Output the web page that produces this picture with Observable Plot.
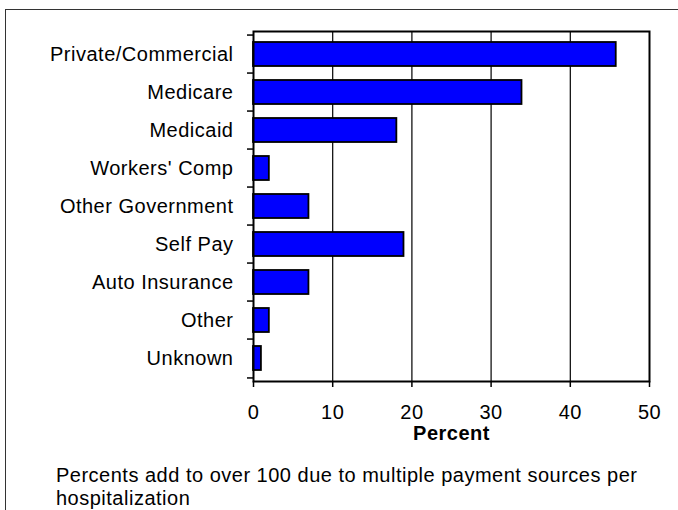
<!DOCTYPE html>
<html><head><meta charset="utf-8">
<script src="https://cdn.jsdelivr.net/npm/d3@7"></script>
<script src="https://cdn.jsdelivr.net/npm/@observablehq/plot@0.6"></script>
<style>
body{margin:0;background:#fff;}
#wrap{position:relative;width:678px;height:510px;overflow:hidden;font-family:"Liberation Sans",Arial,sans-serif;background:#fff;}
#border{position:absolute;left:5px;top:9px;width:800px;height:800px;border:1.5px solid #333;}
#chart{position:absolute;left:0;top:0;}
#note{position:absolute;left:56px;top:463.6px;width:600px;font-size:20px;line-height:23px;letter-spacing:0.5px;color:#000;}
</style></head><body>
<div id="wrap"><div id="border"></div><div id="chart"></div><div id="note"></div></div>
<script>
const categories = ["Private/Commercial", "Medicare", "Medicaid", "Workers' Comp", "Other Government", "Self Pay", "Auto Insurance", "Other", "Unknown"];
const percents = [45.8, 33.9, 18.1, 2, 7, 19, 7, 2, 1];
const xTicks = [0, 10, 20, 30, 40, 50];
const gridValues = [10, 20, 30, 40];
const xLabel = "Percent";
const footnote = "Percents add to over 100 due to multiple payment sources per hospitalization";

const data = categories.map((c, i) => ({category: c, value: percents[i]}));

const W = 678, H = 455, mL = 253, mR = 29, mT = 31, mB = 74;
const step = (H - mT - mB) / categories.length;

const chart = Plot.plot({
  width: W, height: H,
  marginLeft: mL, marginRight: mR, marginTop: mT, marginBottom: mB,
  style: {fontFamily: "'Liberation Sans', Arial, sans-serif", fontSize: "20px", letterSpacing: "0.5px", background: "transparent", color: "#000"},
  x: {domain: [0, 50], label: null},
  y: {domain: categories, paddingInner: 0.357, paddingOuter: 0.1785, label: null},
  marks: [
    Plot.ruleX(gridValues, {stroke: "black", strokeWidth: 1.2}),
    Plot.barX(data, {x: "value", y: "category", fill: "#0000FF", stroke: "black", strokeWidth: 1.8}),
    Plot.frame({stroke: "black", strokeWidth: 2}),
    Plot.axisY({tickSize: 0, tickPadding: 20, label: null}),
    Plot.axisY({tickSize: 6, tickFormat: () => "", dy: -step / 2, label: null, strokeWidth: 1.5}),
    Plot.axisY([categories[categories.length - 1]], {tickSize: 6, tickFormat: () => "", dy: step / 2, label: null, strokeWidth: 1.5}),
    Plot.axisX({ticks: xTicks, tickSize: 6, tickPadding: 17, label: null, strokeWidth: 1.5}),
    Plot.text([xLabel], {text: d => d, frameAnchor: "bottom", dy: 58, fontWeight: "bold", fontSize: 20})
  ]
});
document.getElementById("chart").appendChild(chart);
document.getElementById("note").textContent = footnote;
</script>
</body></html>
